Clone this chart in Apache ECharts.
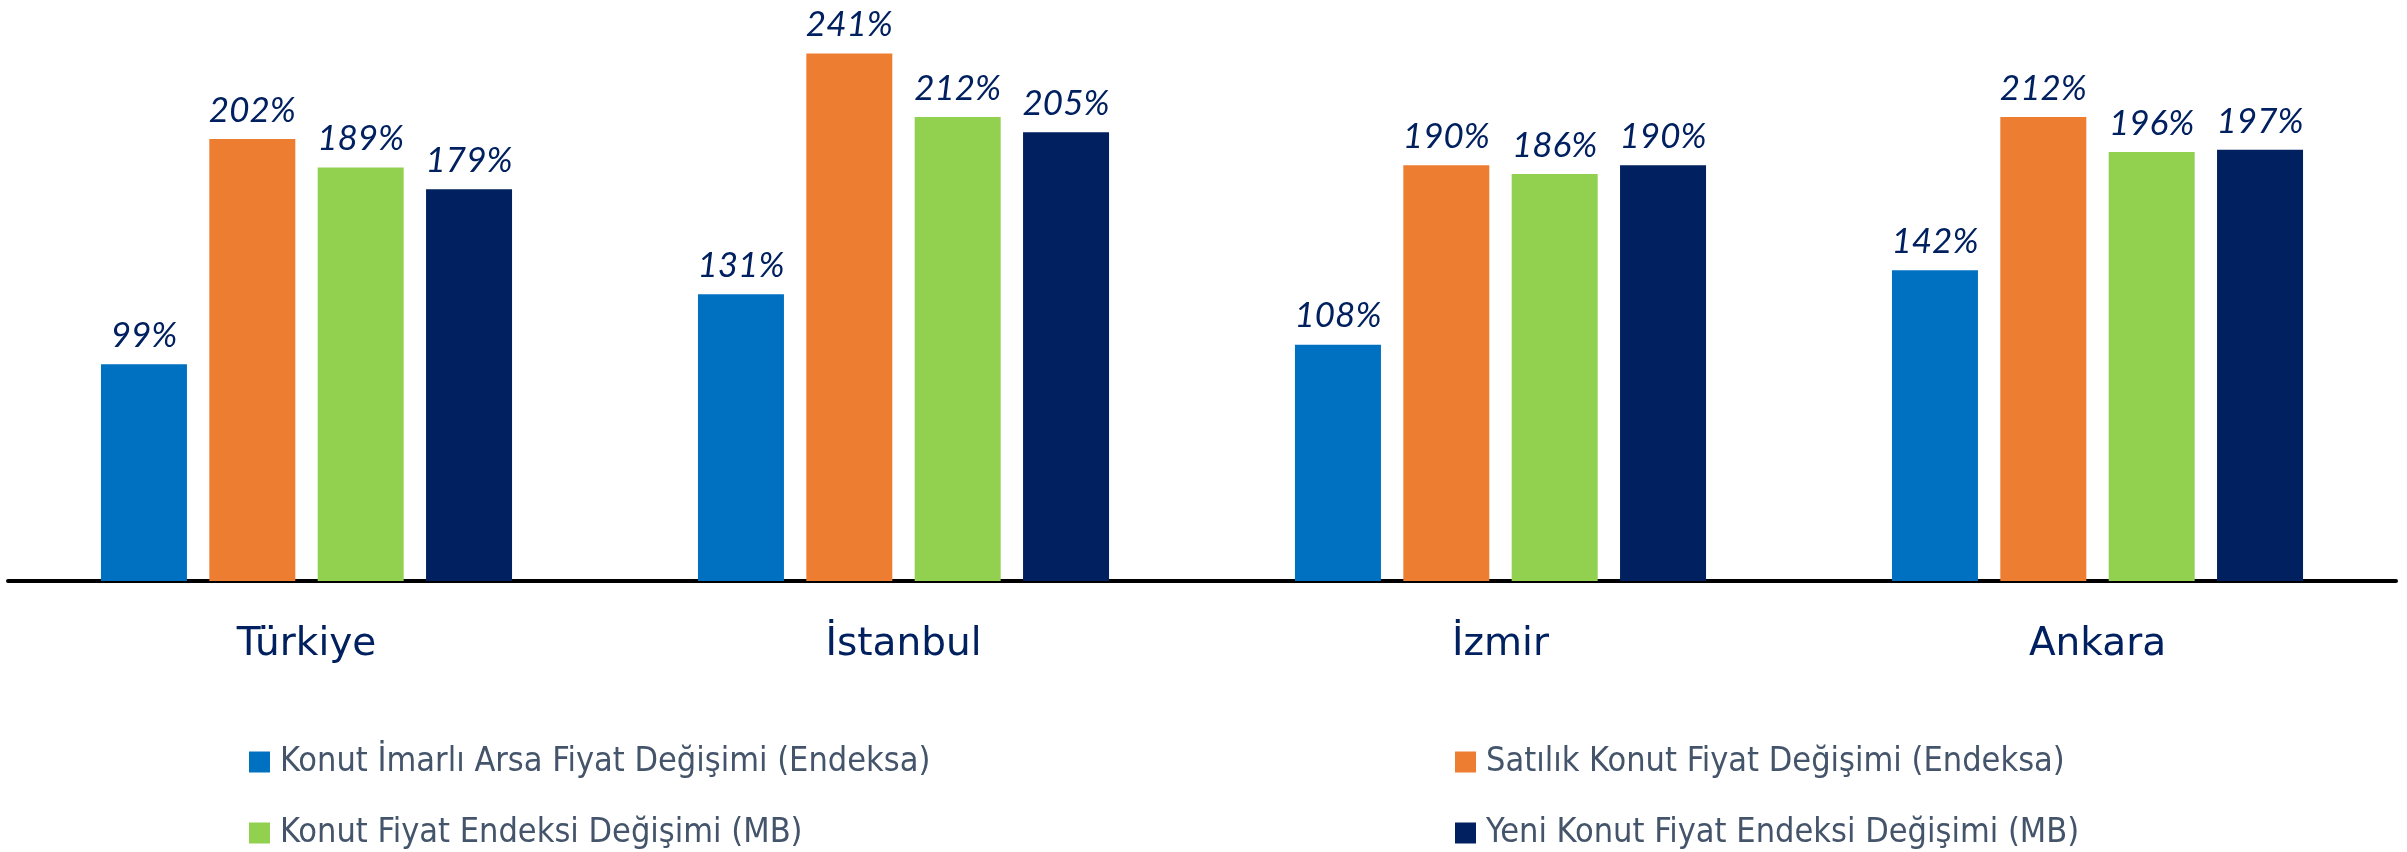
<!DOCTYPE html>
<html>
<head>
<meta charset="utf-8">
<script src="https://cdn.jsdelivr.net/npm/echarts@6/dist/echarts.min.js"></script>
<style>
html,body{margin:0;padding:0;background:#fff;}
#chart{width:2407px;height:852px;}
</style>
</head>
<body>
<div id="chart"></div>
<script>
const categories = ['Türkiye', 'İstanbul', 'İzmir', 'Ankara'];
const seriesNames = [
  'Konut İmarlı Arsa Fiyat Değişimi (Endeksa)',
  'Satılık Konut Fiyat Değişimi (Endeksa)',
  'Konut Fiyat Endeksi Değişimi (MB)',
  'Yeni Konut Fiyat Endeksi Değişimi (MB)'
];
const arsaValues = [99, 131, 108, 142];
const satilikValues = [202, 241, 190, 212];
const kfeValues = [189, 212, 186, 196];
const yeniKfeValues = [179, 205, 190, 197];
const seriesColors = ['#0070C0', '#ED7D31', '#92D050', '#002060'];

const allValues = [arsaValues, satilikValues, kfeValues, yeniKfeValues];

const chart = echarts.init(document.getElementById('chart'));

const legendText = {
  color: '#44546A',
  fontSize: 34,
  fontFamily: '"Liberation Sans Narrow", "DejaVu Sans Condensed", "Liberation Sans", sans-serif',
  padding: [0, 0, 0, 5]
};

// legend slots: [left, top] for each series
const legendSlots = [[249, 745], [1455, 745], [249, 816], [1455, 816]];

const option = {
  animation: false,
  backgroundColor: '#ffffff',
  grid: { left: 8, right: 11, top: 12, bottom: 271, containLabel: false },
  xAxis: {
    type: 'category',
    data: categories,
    axisLine: { show: true, lineStyle: { color: '#000000', width: 4 } },
    axisTick: { show: false },
    axisLabel: {
      color: '#002060',
      fontSize: 39,
      fontFamily: '"DejaVu Sans", sans-serif',
      margin: 44
    }
  },
  yAxis: {
    type: 'value',
    min: 0,
    max: 260,
    show: false,
    splitLine: { show: false }
  },
  legend: seriesNames.map((name, i) => ({
    data: [name],
    left: legendSlots[i][0],
    top: legendSlots[i][1],
    padding: 0,
    icon: 'rect',
    itemWidth: 21,
    itemHeight: 21,
    textStyle: legendText
  })),
  series: seriesNames.map((name, i) => ({
    name: name,
    type: 'bar',
    data: allValues[i],
    barWidth: 86,
    barGap: '26%',
    itemStyle: { color: seriesColors[i] },
    label: {
      show: true,
      position: 'top',
      distance: 11,
      formatter: '{c}%',
      color: '#002060',
      fontSize: 35,
      fontStyle: 'italic',
      fontFamily: 'Lato, sans-serif'
    }
  }))
};

chart.setOption(option);
</script>
</body>
</html>
